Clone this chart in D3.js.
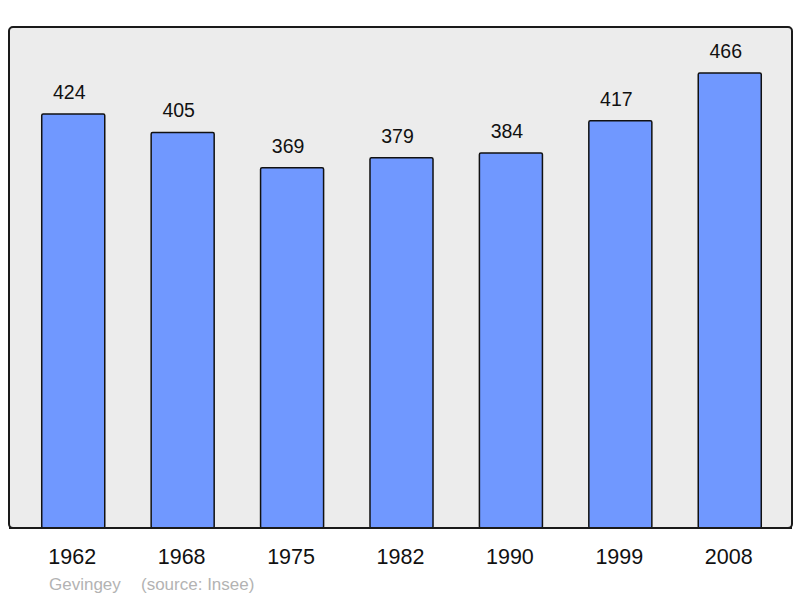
<!DOCTYPE html>
<html>
<head>
<meta charset="utf-8">
<script src="https://cdn.jsdelivr.net/npm/d3@7"></script>
<style>
  body { margin: 0; background: #fff; }
  text { font-family: "Liberation Sans", Arial, sans-serif; }
</style>
</head>
<body>
<div id="chart"></div>
<script>
// population by census year
const years = ['1962', '1968', '1975', '1982', '1990', '1999', '2008'];
const population = [424, 405, 369, 379, 384, 417, 466];
const place = 'Gevingey';
const source = '(source: Insee)';

const width = 800;
const height = 598;
const panel = { left: 9, top: 27, right: 792, bottom: 528 };

const svg = d3.select('#chart')
    .append('svg')
    .attr('width', width)
    .attr('height', height);

// background panel
svg.append('rect')
    .attr('x', panel.left)
    .attr('y', panel.top)
    .attr('width', panel.right - panel.left)
    .attr('height', panel.bottom - panel.top)
    .attr('rx', 4)
    .attr('fill', '#ececec')
    .attr('stroke', '#1a1a1a')
    .attr('stroke-width', 2);

const x = d3.scaleBand()
    .domain(years)
    .range([panel.left + 1, panel.right + 1])
    .paddingInner(0.424)
    .paddingOuter(0.29);

const y = d3.scaleLinear()
    .domain([0, 513])
    .range([panel.bottom, panel.top]);

svg.append('g')
    .selectAll('rect')
    .data(population)
    .join('rect')
    .attr('x', (d, i) => x(years[i]))
    .attr('y', d => y(d))
    .attr('width', x.bandwidth())
    .attr('height', d => y(0) - y(d))
    .attr('rx', 1.5)
    .attr('fill', '#7098ff')
    .attr('stroke', '#111')
    .attr('stroke-width', 1.5);

// value labels
svg.append('g')
    .selectAll('text')
    .data(population)
    .join('text')
    .attr('x', (d, i) => x(years[i]) + x.bandwidth() / 2 - 4)
    .attr('y', d => y(d) - 15)
    .attr('text-anchor', 'middle')
    .attr('font-size', '19.5px')
    .attr('fill', '#111')
    .text(d => d);

// redraw bottom edge of the panel over the bars
svg.append('line')
    .attr('x1', panel.left)
    .attr('x2', panel.right)
    .attr('y1', panel.bottom)
    .attr('y2', panel.bottom)
    .attr('stroke', '#1a1a1a')
    .attr('stroke-width', 2);

// year axis
const xAxis = g => {
    g.attr('transform', `translate(0,${panel.bottom})`)
        .call(d3.axisBottom(x).tickSize(0).tickPadding(0))
        .call(g => g.select('.domain').remove())
        .selectAll('text')
        .attr('dy', null)
        .attr('y', 36)
        .attr('x', -1)
        .attr('font-size', '21.5px')
        .attr('fill', '#111')
        .style('font-family', '"Liberation Sans", Arial, sans-serif');
};
svg.append('g').call(xAxis);

// footer
svg.append('text')
    .attr('x', 49)
    .attr('y', 590)
    .attr('font-size', '17px')
    .attr('fill', '#b3b3b3')
    .text(place);

svg.append('text')
    .attr('x', 141)
    .attr('y', 590)
    .attr('font-size', '17px')
    .attr('fill', '#b3b3b3')
    .text(source);
</script>
</body>
</html>
